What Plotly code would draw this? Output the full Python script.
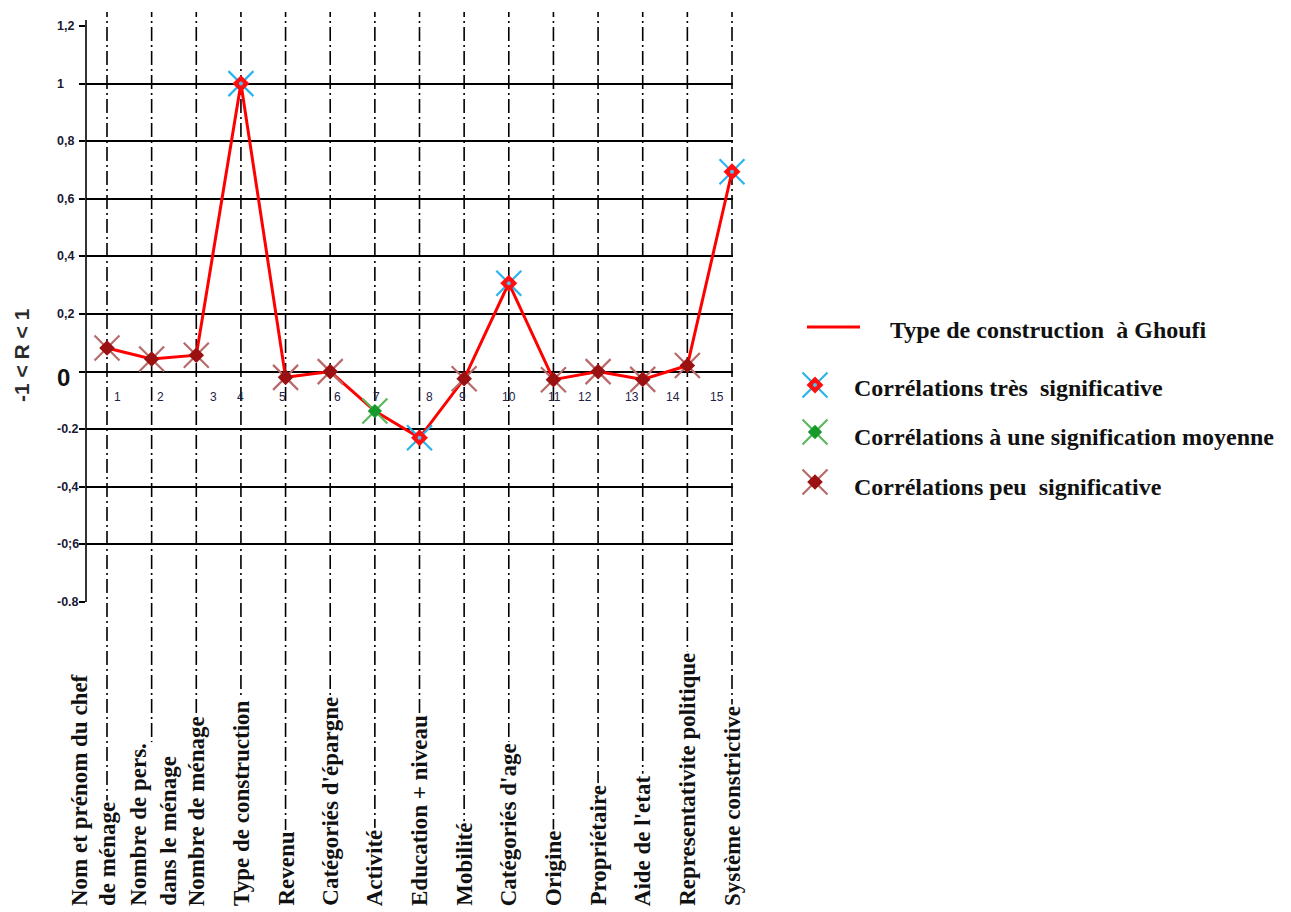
import plotly.graph_objects as go

# ---- data ----
categories = [
    "Nom et prénom du chef<br>de ménage",
    "Nombre de pers.<br>dans le ménage",
    "Nombre de ménage",
    "Type de construction",
    "Revenu",
    "Catégoriés d'épargne",
    "Activité",
    "Education + niveau",
    "Mobilité",
    "Catégoriés d'age",
    "Origine",
    "Propriétaire",
    "Aide de l'etat",
    "Representativite politique",
    "Système constrictive",
]
numbers = list(range(1, 16))
r_values = [0.082, 0.044, 0.057, 1.0, -0.02, 0.0, -0.137, -0.23,
            -0.025, 0.307, -0.028, 0.0, -0.027, 0.021, 0.694]
significance = ["peu", "peu", "peu", "tres", "peu", "peu", "moyenne", "tres",
                "peu", "tres", "peu", "peu", "peu", "peu", "tres"]
y_tickvals = [1.2, 1.0, 0.8, 0.6, 0.4, 0.2, 0.0, -0.2, -0.4, -0.6, -0.8]
y_ticktext = ["1,2", "1", "0,8", "0,6", "0,4", "0,2", "0", "-0.2", "-0,4", "-0;6", "-0.8"]

series_name = "Type de construction\u00a0\u00a0à Ghoufi"
group_names = {
    "tres": "Corrélations très\u00a0\u00a0significative",
    "moyenne": "Corrélations à une signification moyenne",
    "peu": "Corrélations peu\u00a0\u00a0significative",
}

# ---- styles ----
W, H = 1291, 912
ML, MT, MB = 86, 26, 310
plot_w = 647
x_lo, x_hi = 1 - 21 / 44.643, 15 + 1 / 44.643
SERIF = "Liberation Serif, Times New Roman, serif"
SANS = "Liberation Sans, Arial, sans-serif"

group_style = {
    "tres": dict(arm="#2ab4ec", fill="#ff1010", size=13, dot="#4cc3f2"),
    "moyenne": dict(arm="#5cb85c", fill="#159a2b", size=11, dot=None),
    "peu": dict(arm="#b86a6a", fill="#9b1111", size=12, dot=None),
}
# pixel nudges of the small index numbers relative to each dash-dot line
num_nudge = [10, 9, 17, 0, -3, 7, 2, 10, -2, 0, 1, -13, -11, -14, -15]


def add_glyph(fig, xs, ys, st, **axes):
    """Broken X arms with a diamond core (and optional centre dot)."""
    common = dict(mode="markers", showlegend=False, hoverinfo="skip",
                  cliponaxis=False, **axes)
    fig.add_trace(go.Scatter(
        x=xs, y=ys, marker=dict(symbol="x-thin", size=25,
                                line=dict(color=st["arm"], width=2.2)), **common))
    fig.add_trace(go.Scatter(
        x=xs, y=ys, marker=dict(symbol="diamond", size=st["size"], color=st["fill"],
                                line=dict(width=0)), **common))
    if st["dot"]:
        fig.add_trace(go.Scatter(
            x=xs, y=ys, marker=dict(symbol="circle", size=4, color=st["dot"],
                                    line=dict(width=0)), **common))


fig = go.Figure()

# main red curve
fig.add_trace(go.Scatter(
    x=numbers, y=r_values, mode="lines", cliponaxis=False,
    line=dict(color="#ff0000", width=3), showlegend=False, hoverinfo="skip"))

# significance markers
for key in ["peu", "moyenne", "tres"]:
    xs = [n for n, s in zip(numbers, significance) if s == key]
    ys = [v for v, s in zip(r_values, significance) if s == key]
    add_glyph(fig, xs, ys, group_style[key])

# ---- legend (drawn on a helper axis in pixel-like units) ----
leg_x0 = 740
legend_font = dict(family=SERIF, size=24, color="#111111", weight="bold")
fig.add_shape(type="line", xref="x2", yref="y2", x0=807, x1=860, y0=327, y1=327,
              line=dict(color="#ff0000", width=3))
leg_rows = [("tres", 385, 388), ("moyenne", 432, 437), ("peu", 482, 487)]
for key, ym, yt in leg_rows:
    add_glyph(fig, [815], [ym], group_style[key], xaxis="x2", yaxis="y2")
    fig.add_annotation(x=852, y=yt, xref="x2", yref="y2", text=group_names[key],
                       showarrow=False, xanchor="left", yanchor="middle",
                       font=legend_font)
fig.add_annotation(x=888, y=330, xref="x2", yref="y2", text=series_name,
                   showarrow=False, xanchor="left", yanchor="middle",
                   font=legend_font)

# ---- dash-dot category lines (covered by the white label boxes below) ----
def paper_y(px):
    return (H - MB - px) / (H - MB - MT)

for n in numbers:
    fig.add_shape(type="line", xref="x", yref="paper", x0=n, x1=n,
                  y0=paper_y(905), y1=paper_y(12), layer="below",
                  line=dict(color="#000000", width=1.6, dash="14px,4px,2px,4px"))

# y axis line, a touch taller than the grid
fig.add_shape(type="line", xref="paper", yref="paper", x0=0, x1=0,
              y0=0, y1=paper_y(20), line=dict(color="#000000", width=1.6))

# ---- rotated category labels along the bottom ----
label_font = dict(family=SERIF, size=23, color="#111111", weight="bold")
label_parts = []
for i, (n, cat) in enumerate(zip(numbers, categories)):
    if i == 0:
        first, second = cat.split("<br>")
        label_parts.append((n, first, -28))
        label_parts.append((n, second, 0))
    elif i == 1:
        label_parts.append((n, cat, 1))
    else:
        label_parts.append((n, cat, 0))
for n, txt, dx in label_parts:
    fig.add_annotation(x=n, y=paper_y(908), xref="x", yref="paper", text=txt,
                       showarrow=False, textangle=-90, xanchor="center",
                       yanchor="bottom", align="left", xshift=dx,
                       bgcolor="#ffffff", borderpad=1, font=label_font)

# small index numbers below the zero line
for n, dx in zip(numbers, num_nudge):
    fig.add_annotation(x=n, y=0, xref="x", yref="y", text=str(n), showarrow=False,
                       xshift=dx, yshift=-25,
                       font=dict(family=SANS, size=12, color="#222244"))

# y tick labels
for v, t in zip(y_tickvals, y_ticktext):
    big = t == "0"
    fig.add_annotation(x=0, y=v, xref="paper", yref="y", text=t, showarrow=False,
                       xanchor="left", yanchor="middle", xshift=-31,
                       yshift=-6 if big else 0,
                       font=dict(family=SANS, size=24 if big else 12.5,
                                 weight="bold",
                                 color="#111111" if big else "#1a1a33"))

# y axis title
fig.add_annotation(x=0, y=paper_y(355), xref="paper", yref="paper",
                   text="-1 < R < 1", showarrow=False, textangle=-90,
                   xanchor="center", yanchor="middle", xshift=-65,
                   font=dict(family=SANS, size=21, color="#2b2b2b", weight="bold"))

fig.update_layout(
    width=W, height=H, autosize=False,
    margin=dict(l=ML, r=0, t=MT, b=MB, pad=0),
    paper_bgcolor="#ffffff", plot_bgcolor="rgba(0,0,0,0)",
    showlegend=False,
    xaxis=dict(domain=[0, plot_w / (W - ML)], range=[x_lo, x_hi],
               showgrid=False, zeroline=False, showticklabels=False,
               ticks="", showline=False, fixedrange=True),
    yaxis=dict(range=[-0.8, 1.2], tickvals=y_tickvals, showticklabels=False,
               showgrid=True, gridcolor="#000000", gridwidth=1.6,
               zeroline=False, ticks="outside", ticklen=6, tickwidth=1.6,
               tickcolor="#000000", showline=False, fixedrange=True),
    xaxis2=dict(domain=[(leg_x0 - ML) / (W - ML), 1], range=[leg_x0, W],
                anchor="y2", visible=False, fixedrange=True),
    yaxis2=dict(domain=[0, 1], range=[H - MB, MT], anchor="x2",
                visible=False, fixedrange=True),
)

fig.write_html("out.html")
